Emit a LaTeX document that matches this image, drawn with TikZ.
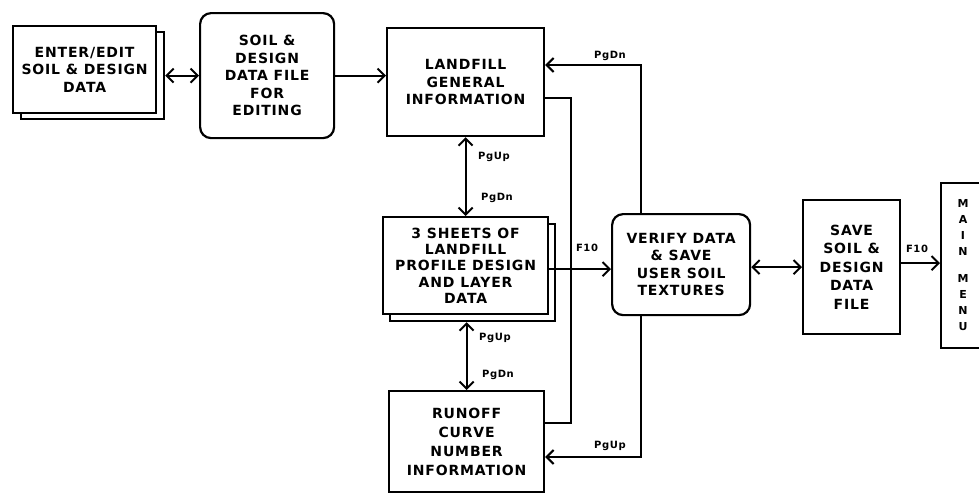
\documentclass[tikz,border=0pt]{standalone}
\usepackage{fontspec}
\setmainfont{DejaVu Sans}[LetterSpace=6]
\usetikzlibrary{arrows.meta}
\tikzset{
  >={Straight Barb[length=7pt,width=14pt,line width=2pt]},
  box/.style={draw, line width=2.2pt, fill=white, align=center, anchor=north west,
    inner sep=0pt, font=\bfseries\fontsize{14}{17.5}\selectfont},
  rbox/.style={box, rounded corners=11pt},
  conn/.style={line width=2.2pt},
  lab/.style={inner sep=0pt, font=\bfseries\fontsize{10}{10}\selectfont},
}
\begin{document}
\begin{tikzpicture}[x=1pt,y=-1pt]
\useasboundingbox (0,0) rectangle (979,493);
\clip (0,0) rectangle (979,493);
% boxes
\node[box, minimum width=143pt, minimum height=87pt] (As) at (20,31) {};
\node[box, minimum width=143pt, minimum height=87pt] (A) at (12,25) {ENTER/EDIT\\SOIL \& DESIGN\\DATA};
\node[rbox, minimum width=134pt, minimum height=125pt] (B) at (199,12) {SOIL \&\\DESIGN\\DATA FILE\\FOR\\EDITING};
\node[box, minimum width=157pt, minimum height=108pt] (C) at (386,27) {LANDFILL\\GENERAL\\INFORMATION};
\node[box, minimum width=165pt, minimum height=97pt] (Ss) at (389,223) {};
\node[box, minimum width=165pt, minimum height=97pt, font=\bfseries\fontsize{14}{16.3}\selectfont] (S) at (382,216) {3 SHEETS OF\\LANDFILL\\PROFILE DESIGN\\AND LAYER\\DATA};
\node[box, minimum width=155pt, minimum height=101pt, font=\bfseries\fontsize{14}{19}\selectfont] (R) at (388,390) {RUNOFF\\CURVE\\NUMBER\\INFORMATION};
\node[rbox, minimum width=138pt, minimum height=101pt] (V) at (611,213) {VERIFY DATA\\\& SAVE\\USER SOIL\\TEXTURES};
\node[box, minimum width=97pt, minimum height=134pt, font=\bfseries\fontsize{14}{18.5}\selectfont] (SV) at (802,199) {SAVE\\SOIL \&\\DESIGN\\DATA\\FILE};
\node[box, minimum width=60pt, minimum height=165pt] (M) at (940,182) {};
\node[inner sep=0pt, align=center, font=\bfseries\fontsize{11}{16}\selectfont] (Mt) at (963,265) {M\\A\\I\\N\\[11pt]M\\E\\N\\U};
% junction coordinates
\coordinate (j1) at (571,98);
\coordinate (j2) at (571,423);
\coordinate (k1) at (641,65);
\coordinate (k2) at (641,457);
% connectors
\draw[conn,<->] (As.east |- B.west) -- (B.west);
\draw[conn,->] (B.east) -- (C.west |- B.east);
\draw[conn,<->] (C.south) -- (S.north);
\draw[conn,<->] (R.north |- Ss.south) -- (R.north);
\draw[conn,->] ([yshift=-3.5pt]S.east) -- ([yshift=-3.5pt]S.east -| V.west);
\draw[conn] (C.east |- j1) -- (j1) -- (j2) -- (R.east |- j2);
\draw[conn,->] (V.north -| k1) -- (k1) -- (C.east |- k1);
\draw[conn,->] (V.south -| k2) -- (k2) -- (R.east |- k2);
\draw[conn,<->] (V.east |- SV.west) -- (SV.west);
\draw[conn,->] ([yshift=4pt]SV.east) -- ([yshift=4pt]SV.east -| M.west);
% labels
\node[lab] (l1) at (610,56) {PgDn};
\node[lab] (l2) at (494,157) {PgUp};
\node[lab] (l3) at (497,198) {PgDn};
\node[lab] (l4) at (587,248) {F10};
\node[lab] (l5) at (495,338) {PgUp};
\node[lab] (l6) at (498,375) {PgDn};
\node[lab] (l7) at (610,446) {PgUp};
\node[lab] (l8) at (917,249) {F10};
\end{tikzpicture}
\end{document}
